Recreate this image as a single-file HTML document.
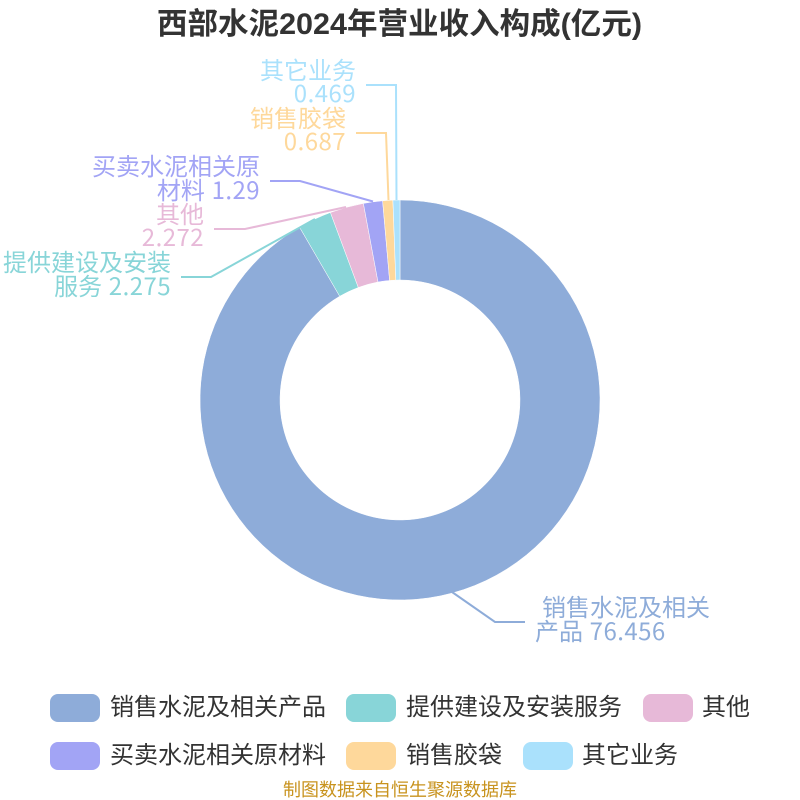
<!DOCTYPE html>
<html><head><meta charset="utf-8">
<style>
html,body{margin:0;padding:0;background:#fff;width:800px;height:800px;overflow:hidden}
svg{display:block}
text{font-family:"Liberation Sans","Noto Sans CJK SC",sans-serif}
.n{font-family:"Noto Sans CJK SC",sans-serif;letter-spacing:.45px}
</style></head>
<body>
<svg width="800" height="800" viewBox="0 0 800 800" xmlns="http://www.w3.org/2000/svg">
<rect width="800" height="800" fill="#fff"/>
<text x="399.5" y="34" text-anchor="middle" font-size="30" font-weight="700" fill="#333" textLength="485" lengthAdjust="spacingAndGlyphs">西部水泥2024年营业收入构成(亿元)</text>

<g stroke="#fff" stroke-width="0.5">
<path d="M400 200A200 200 0 1 1 299.5 227.1L339.7 296.25A120 120 0 1 0 400 280Z" fill="#8eacd9"/>
<path d="M299.5 227.1A200 200 0 0 1 330.4 212.5L358.3 287.5A120 120 0 0 0 339.7 296.25Z" fill="#88d5d8"/>
<path d="M330.4 212.5A200 200 0 0 1 363.4 203.4L378 282A120 120 0 0 0 358.3 287.5Z" fill="#e7b9d8"/>
<path d="M363.4 203.4A200 200 0 0 1 382.6 200.8L389.6 280.5A120 120 0 0 0 378 282Z" fill="#a2a4f5"/>
<path d="M382.6 200.8A200 200 0 0 1 392.9 200.1L395.8 280.1A120 120 0 0 0 389.6 280.5Z" fill="#fed89b"/>
<path d="M392.9 200.1A200 200 0 0 1 400 200L400 280A120 120 0 0 0 395.8 280.1Z" fill="#aae1fc"/>
</g>

<g fill="none" stroke-width="2">
<polyline points="366,85 396,85 396.5,200" stroke="#aae1fc"/>
<polyline points="356,133 386,133 388.5,200" stroke="#fed89b"/>
<polyline points="270,181 300,181 373,201.5" stroke="#a2a4f5"/>
<polyline points="214,229 245,229 346,207" stroke="#e7b9d8"/>
<polyline points="181,277 211,277 315,219" stroke="#88d5d8"/>
<polyline points="452,592 495,622 525,622" stroke="#8eacd9"/>
</g>

<g font-size="24" text-anchor="end">
<g fill="#aae1fc"><text x="356" y="79">其它业务</text><text x="356" y="102" class="n">0.469</text></g>
<g fill="#fed89b"><text x="346" y="127">销售胶袋</text><text x="346" y="150" class="n">0.687</text></g>
<g fill="#a2a4f5"><text x="260" y="175">买卖水泥相关原</text><text x="260" y="199">材料 <tspan class="n">1.29</tspan></text></g>
<g fill="#e7b9d8"><text x="204" y="223">其他</text><text x="204" y="246" class="n">2.272</text></g>
<g fill="#88d5d8"><text x="171" y="271">提供建设及安装</text><text x="171" y="295">服务 <tspan class="n">2.275</tspan></text></g>
</g>
<g font-size="24" fill="#8eacd9">
<text x="542" y="616">销售水泥及相关</text>
<text x="535" y="640">产品 <tspan class="n">76.456</tspan></text>
</g>

<rect x="50" y="694" width="50" height="28" rx="8" fill="#8eacd9"/>
<rect x="346" y="694" width="50" height="28" rx="8" fill="#88d5d8"/>
<rect x="643" y="694" width="50" height="28" rx="8" fill="#e7b9d8"/>
<rect x="50" y="742" width="50" height="28" rx="8" fill="#a2a4f5"/>
<rect x="346" y="742" width="50" height="28" rx="8" fill="#fed89b"/>
<rect x="523" y="742" width="50" height="28" rx="8" fill="#aae1fc"/>
<g font-size="24" fill="#333">
<text x="110" y="715">销售水泥及相关产品</text>
<text x="406" y="715">提供建设及安装服务</text>
<text x="702" y="715">其他</text>
<text x="110" y="763">买卖水泥相关原材料</text>
<text x="406" y="763">销售胶袋</text>
<text x="582" y="763">其它业务</text>
</g>
<text x="400" y="796" text-anchor="middle" font-size="18" fill="#c8931e">制图数据来自恒生聚源数据库</text>
</svg>
</body></html>
